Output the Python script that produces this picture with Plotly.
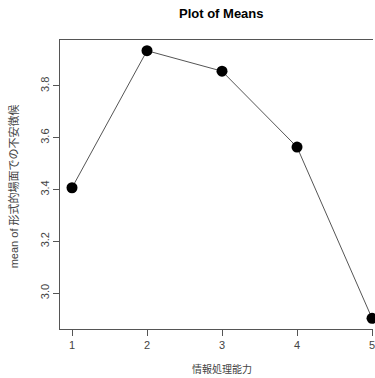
import plotly.graph_objects as go

categories = [1, 2, 3, 4, 5]
means = [3.407, 3.936, 3.857, 3.564, 2.903]
ytick_vals = [3.0, 3.2, 3.4, 3.6, 3.8]
ytick_text = ["3.0", "3.2", "3.4", "3.6", "3.8"]
xtick_text = ["1", "2", "3", "4", "5"]

title_text = "Plot of Means"
x_label = "情報処理能力"
y_label = "mean of 形式的場面での不安徴候"

font_family = "Liberation Sans, Arial, Noto Sans CJK JP, sans-serif"
txt = "#444444"

fig = go.Figure()
fig.add_trace(go.Scatter(
    x=categories, y=means, mode="lines+markers",
    line=dict(color="#555555", width=1),
    marker=dict(color="black", size=11),
    cliponaxis=False, showlegend=False, hoverinfo="skip",
))

fig.update_layout(
    width=375, height=378,
    margin=dict(l=60, r=0, t=40, b=49),
    paper_bgcolor="white", plot_bgcolor="white",
    font=dict(family=font_family, color=txt, size=11),
    xaxis=dict(
        range=[0.84, 5.013], tickvals=categories, ticktext=xtick_text,
        showgrid=False, zeroline=False,
        showline=True, mirror=True, linecolor="#555555", linewidth=1,
        ticks="outside", ticklen=6, tickcolor="#555555",
        tickfont=dict(size=11, color=txt), ticklabeloverflow="allow",
    ),
    yaxis=dict(
        range=[2.8617, 3.9773], tickvals=ytick_vals, ticktext=ytick_text,
        showgrid=False, zeroline=False,
        showline=True, linecolor="#555555", linewidth=1,
        ticks="outside", ticklen=6, tickcolor="#555555",
        tickangle=-90, tickfont=dict(size=11, color=txt),
    ),
    annotations=[
        dict(text="<b>" + title_text + "</b>", xref="paper", yref="paper",
             x=(223 - 60) / 315, y=(378 - 49 - 14) / 289, xanchor="center", yanchor="middle",
             showarrow=False, font=dict(size=13, color="black")),
        dict(text=x_label, xref="paper", yref="paper",
             x=(223 - 60) / 315, y=-(369 - 329) / 289, xanchor="center", yanchor="middle",
             showarrow=False, font=dict(size=10, color=txt)),
        dict(text=y_label, xref="paper", yref="paper",
             x=-(60 - 13) / 315, y=(378 - 49 - 186) / 289, xanchor="center", yanchor="middle",
             textangle=-90, showarrow=False, font=dict(size=11, color=txt)),
    ],
)

fig.write_html("out.html", config={"displayModeBar": False},
               post_script="document.body.style.margin='0';document.body.style.overflow='hidden';")
